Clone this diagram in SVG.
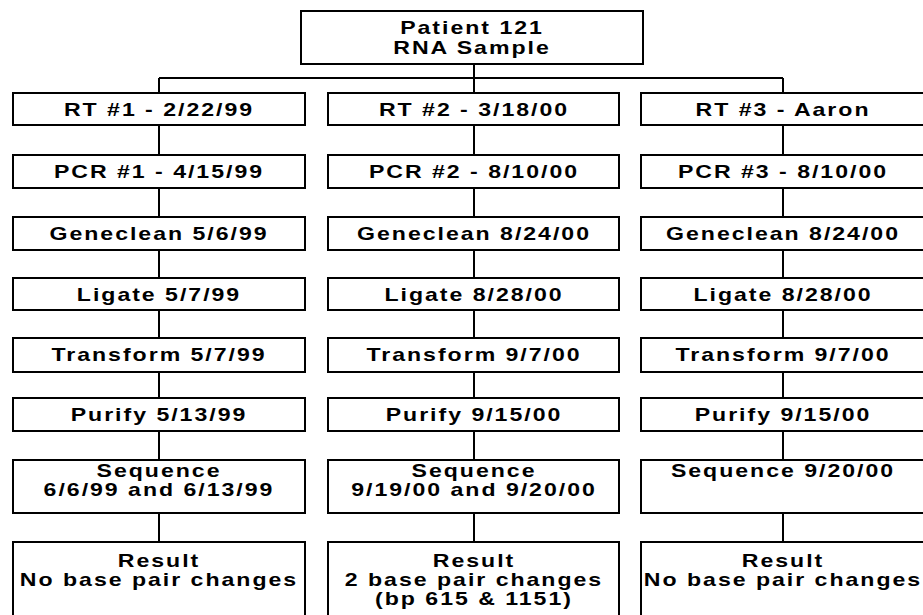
<svg xmlns="http://www.w3.org/2000/svg" width="923" height="615" viewBox="0 0 923 615">
<style>
.b{fill:#fff;stroke:#000;stroke-width:2}
.c{fill:none;stroke:#000;stroke-width:2}
.t{font-family:"Liberation Sans",Arial,Helvetica,sans-serif;font-weight:bold;font-size:17.5px;letter-spacing:1.5px;text-anchor:middle;fill:#000}
</style>
<rect width="923" height="615" fill="#fff"/>
<g id="connectors">
<path class="c" d="M474 64V93M159 78H783M159 78V93M783 78V93"/>
<path class="c" d="M159 125V155M159 188V217M159 250V278M159 310V338M159 372V398M159 431V460M159 513V542"/>
<path class="c" d="M474 125V155M474 188V217M474 250V278M474 310V338M474 372V398M474 431V460M474 513V542"/>
<path class="c" d="M783 125V155M783 188V217M783 250V278M783 310V338M783 372V398M783 431V460M783 513V542"/>
</g>
<g id="root"><rect class="b" x="301" y="11" width="342" height="53"/><text class="t" transform="translate(472,34) scale(1.32,1)"><tspan x="0">Patient 121</tspan><tspan x="0" dy="20">RNA Sample</tspan></text></g>

<g id="rt1"><rect class="b" x="13" y="93" width="292" height="32"/><text class="t" transform="translate(159,115.5) scale(1.32,1)">RT #1 - 2/22/99</text></g>
<g id="rt2"><rect class="b" x="328" y="93" width="291" height="32"/><text class="t" transform="translate(474,115.5) scale(1.32,1)">RT #2 - 3/18/00</text></g>
<g id="rt3"><rect class="b" x="641" y="93" width="294" height="32"/><text class="t" transform="translate(783,115.5) scale(1.32,1)">RT #3 - Aaron</text></g>

<g id="pcr1"><rect class="b" x="13" y="155" width="292" height="33"/><text class="t" transform="translate(159,177.5) scale(1.32,1)">PCR #1 - 4/15/99</text></g>
<g id="pcr2"><rect class="b" x="328" y="155" width="291" height="33"/><text class="t" transform="translate(474,177.5) scale(1.32,1)">PCR #2 - 8/10/00</text></g>
<g id="pcr3"><rect class="b" x="641" y="155" width="294" height="33"/><text class="t" transform="translate(783,177.5) scale(1.32,1)">PCR #3 - 8/10/00</text></g>

<g id="gene1"><rect class="b" x="13" y="217" width="292" height="33"/><text class="t" transform="translate(159,240) scale(1.32,1)">Geneclean 5/6/99</text></g>
<g id="gene2"><rect class="b" x="328" y="217" width="291" height="33"/><text class="t" transform="translate(474,240) scale(1.32,1)">Geneclean 8/24/00</text></g>
<g id="gene3"><rect class="b" x="641" y="217" width="294" height="33"/><text class="t" transform="translate(783,240) scale(1.32,1)">Geneclean 8/24/00</text></g>

<g id="lig1"><rect class="b" x="13" y="278" width="292" height="32"/><text class="t" transform="translate(159,300.5) scale(1.32,1)">Ligate 5/7/99</text></g>
<g id="lig2"><rect class="b" x="328" y="278" width="291" height="32"/><text class="t" transform="translate(474,300.5) scale(1.32,1)">Ligate 8/28/00</text></g>
<g id="lig3"><rect class="b" x="641" y="278" width="294" height="32"/><text class="t" transform="translate(783,300.5) scale(1.32,1)">Ligate 8/28/00</text></g>

<g id="tr1"><rect class="b" x="13" y="338" width="292" height="34"/><text class="t" transform="translate(159,361) scale(1.32,1)">Transform 5/7/99</text></g>
<g id="tr2"><rect class="b" x="328" y="338" width="291" height="34"/><text class="t" transform="translate(474,361) scale(1.32,1)">Transform 9/7/00</text></g>
<g id="tr3"><rect class="b" x="641" y="338" width="294" height="34"/><text class="t" transform="translate(783,361) scale(1.32,1)">Transform 9/7/00</text></g>

<g id="pur1"><rect class="b" x="13" y="398" width="292" height="33"/><text class="t" transform="translate(159,421) scale(1.32,1)">Purify 5/13/99</text></g>
<g id="pur2"><rect class="b" x="328" y="398" width="291" height="33"/><text class="t" transform="translate(474,421) scale(1.32,1)">Purify 9/15/00</text></g>
<g id="pur3"><rect class="b" x="641" y="398" width="294" height="33"/><text class="t" transform="translate(783,421) scale(1.32,1)">Purify 9/15/00</text></g>

<g id="seq1"><rect class="b" x="13" y="460" width="292" height="53"/><text class="t" transform="translate(159,476.5) scale(1.32,1)"><tspan x="0">Sequence</tspan><tspan x="0" dy="19.5">6/6/99 and 6/13/99</tspan></text></g>
<g id="seq2"><rect class="b" x="328" y="460" width="291" height="53"/><text class="t" transform="translate(474,476.5) scale(1.32,1)"><tspan x="0">Sequence</tspan><tspan x="0" dy="19.5">9/19/00 and 9/20/00</tspan></text></g>
<g id="seq3"><rect class="b" x="641" y="460" width="294" height="53"/><text class="t" transform="translate(783,476.5) scale(1.32,1)">Sequence 9/20/00</text></g>

<g id="res1"><rect class="b" x="13" y="542" width="292" height="100"/><text class="t" transform="translate(159,566.5) scale(1.32,1)"><tspan x="0">Result</tspan><tspan x="0" dy="19.5">No base pair changes</tspan></text></g>
<g id="res2"><rect class="b" x="328" y="542" width="291" height="100"/><text class="t" transform="translate(474,566.5) scale(1.32,1)"><tspan x="0">Result</tspan><tspan x="0" dy="19.5">2 base pair changes</tspan><tspan x="0" dy="19.5">(bp 615 &amp; 1151)</tspan></text></g>
<g id="res3"><rect class="b" x="641" y="542" width="294" height="100"/><text class="t" transform="translate(783,566.5) scale(1.32,1)"><tspan x="0">Result</tspan><tspan x="0" dy="19.5">No base pair changes</tspan></text></g>
</svg>
